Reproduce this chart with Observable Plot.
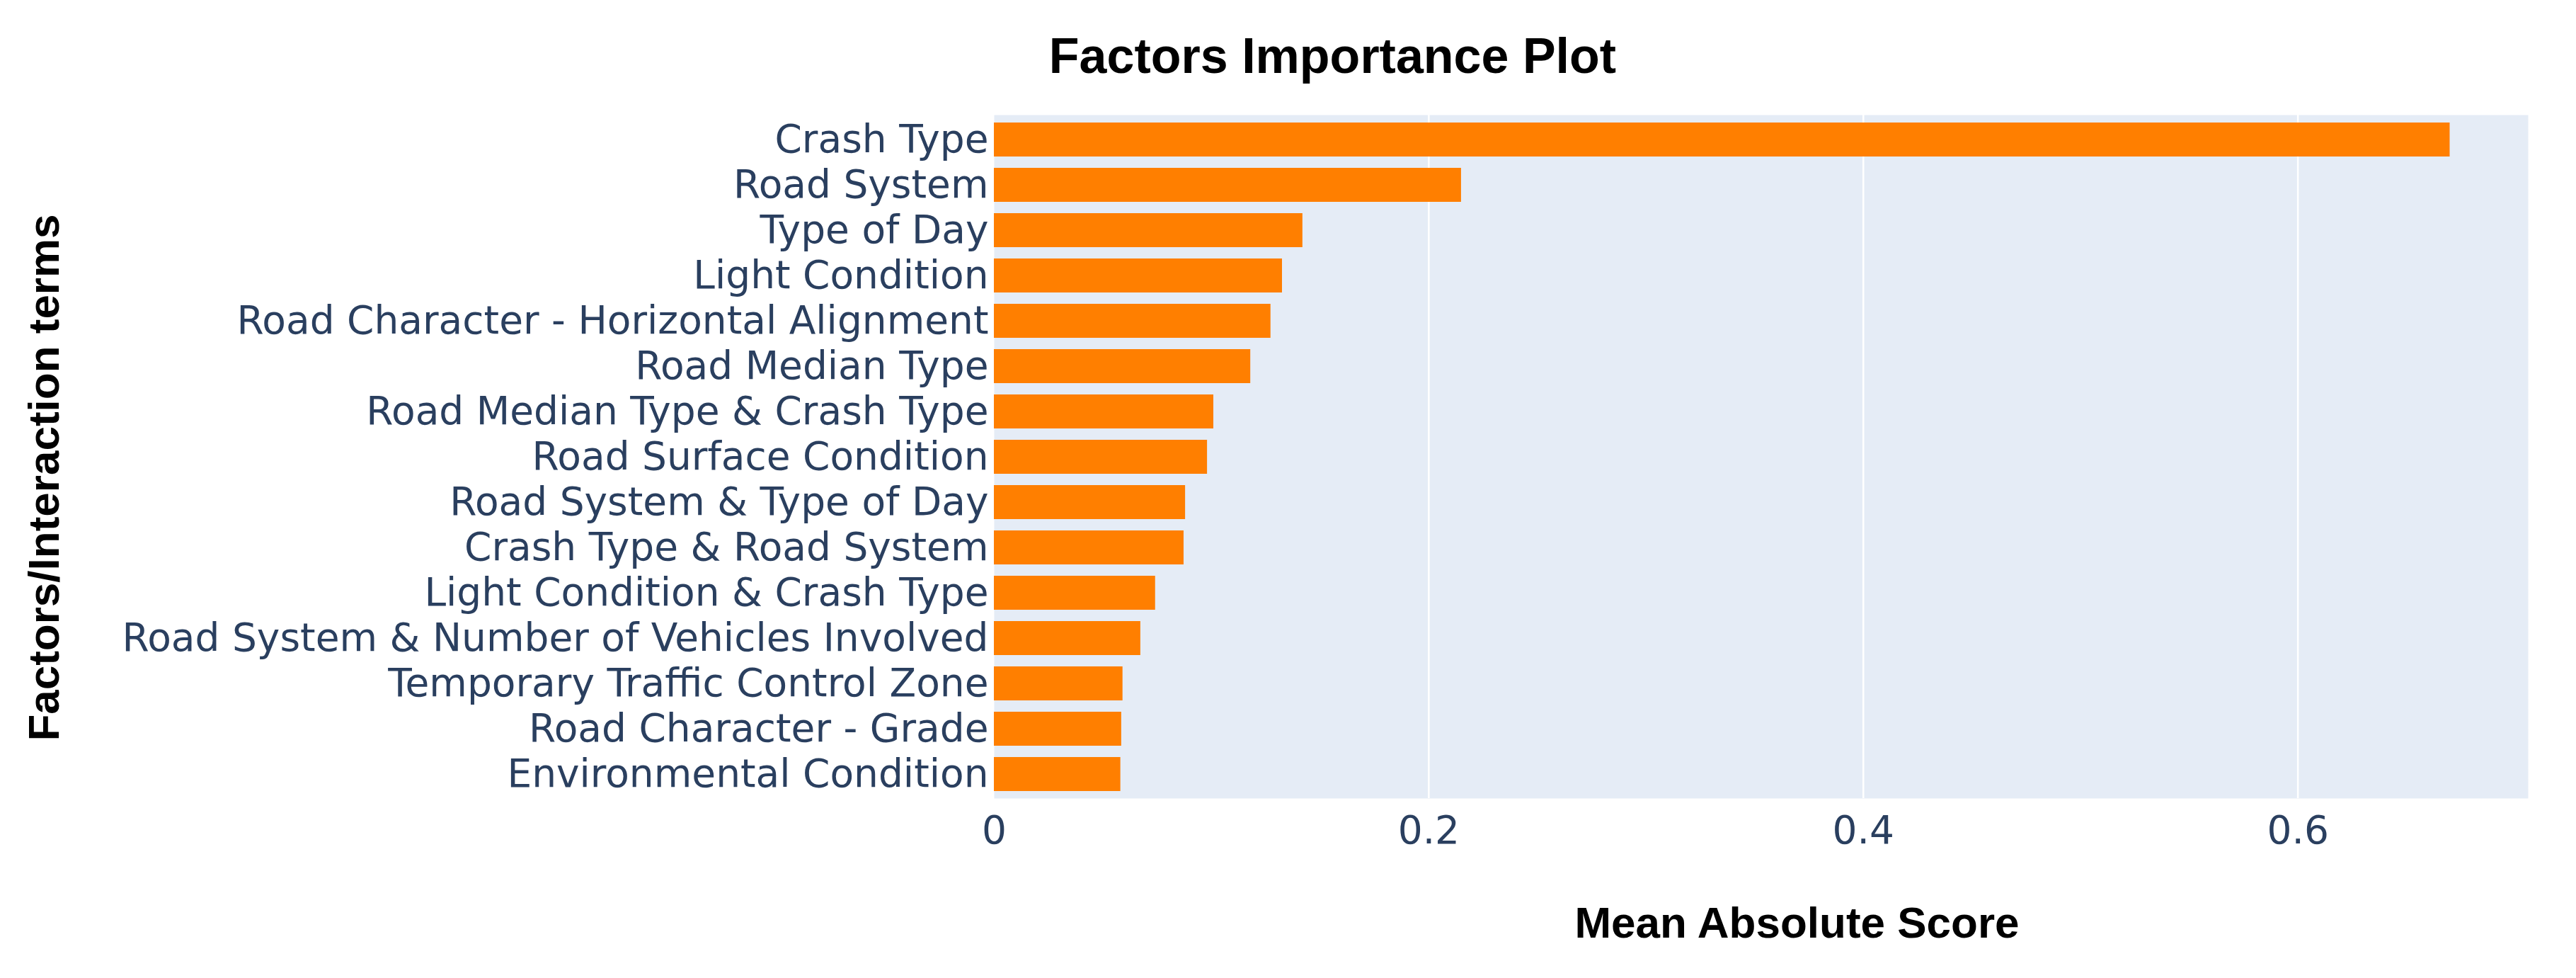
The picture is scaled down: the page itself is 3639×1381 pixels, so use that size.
<!DOCTYPE html>
<html>
<head>
<meta charset="utf-8">
<script src="https://cdn.jsdelivr.net/npm/d3@7"></script>
<script src="https://cdn.jsdelivr.net/npm/@observablehq/plot@0.6"></script>
<style>
  html, body { margin: 0; padding: 0; background: #ffffff; }
</style>
</head>
<body>
<div id="chart"></div>
<script>
const factors = [
  "Crash Type",
  "Road System",
  "Type of Day",
  "Light Condition",
  "Road Character - Horizontal Alignment",
  "Road Median Type",
  "Road Median Type & Crash Type",
  "Road Surface Condition",
  "Road System & Type of Day",
  "Crash Type & Road System",
  "Light Condition & Crash Type",
  "Road System & Number of Vehicles Involved",
  "Temporary Traffic Control Zone",
  "Road Character - Grade",
  "Environmental Condition"
];
const scores = [0.670, 0.215, 0.142, 0.1326, 0.1273, 0.118, 0.101, 0.0981, 0.088, 0.0873, 0.0742, 0.0674, 0.0592, 0.0586, 0.0582];
const xTicks = [0, 0.2, 0.4, 0.6];
const xTickLabels = ["0", "0.2", "0.4", "0.6"];
const gridValues = [0.2, 0.4, 0.6];
const titleText = "Factors Importance Plot";
const xTitle = "Mean Absolute Score";
const yTitle = "Factors/Interaction terms";

const data = factors.map((name, i) => ({name, value: scores[i]}));

const W = 3639, H = 1381;
const mL = 1404, mR = 68, mT = 162, mB = 254;
const frameCX = mL + (W - mL - mR) / 2;
const frameCY = mT + (H - mT - mB) / 2;

const chart = Plot.plot({
  width: W,
  height: H,
  marginLeft: mL,
  marginRight: mR,
  marginTop: mT,
  marginBottom: mB,
  style: {fontFamily: "DejaVu Sans", fontSize: "55px", color: "#2a3f5f", background: "#ffffff"},
  x: {
    domain: [0, 0.706],
    ticks: xTicks,
    tickFormat: d => xTickLabels[xTicks.indexOf(d)],
    tickSize: 0,
    tickPadding: 24,
    label: null
  },
  y: {
    domain: factors,
    paddingInner: 0.25,
    paddingOuter: 0.125,
    tickSize: 0,
    tickPadding: 8,
    label: null
  },
  marks: [
    Plot.frame({fill: "#e5ecf6", stroke: null}),
    Plot.ruleX(gridValues, {stroke: "#ffffff", strokeWidth: 2.5}),
    Plot.barX(data, {x: "value", y: "name", fill: "#ff7f00"}),
    Plot.axisX({ticks: xTicks, tickFormat: d => xTickLabels[xTicks.indexOf(d)], tickSize: 0, tickPadding: 24, label: null, fill: "#2a3f5f"}),
    Plot.axisY({tickSize: 0, tickPadding: 8, label: null, fill: "#2a3f5f"}),
    Plot.text([titleText], {frameAnchor: "top", text: d => d, textAnchor: "middle", dx: 1882 - frameCX, dy: 102 - mT, lineAnchor: "bottom",
      fontFamily: "Liberation Sans", fontWeight: "bold", fontSize: 70, fill: "#000000"}),
    Plot.text([xTitle], {frameAnchor: "bottom", text: d => d, textAnchor: "middle", dx: 2538 - frameCX, dy: 1323 - (H - mB), lineAnchor: "bottom",
      fontFamily: "Liberation Sans", fontWeight: "bold", fontSize: 62, fill: "#000000"}),
    Plot.text([yTitle], {frameAnchor: "left", text: d => d, textAnchor: "middle", dx: 63 - mL, dy: 674 - frameCY, rotate: -90, lineAnchor: "middle",
      fontFamily: "Liberation Sans", fontWeight: "bold", fontSize: 62, fill: "#000000"})
  ]
});
document.getElementById("chart").appendChild(chart);
</script>
</body>
</html>
